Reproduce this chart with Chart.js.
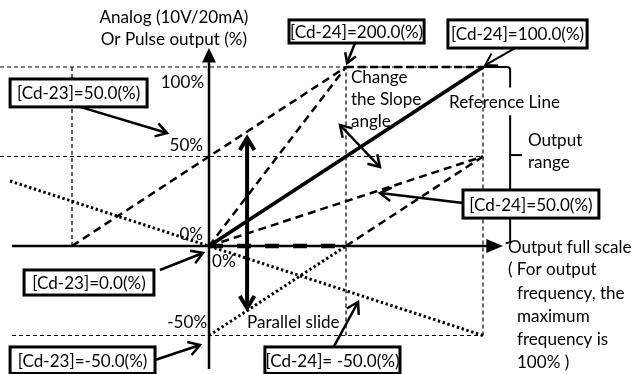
<!DOCTYPE html>
<html><head><meta charset="utf-8">
<script src="https://cdn.jsdelivr.net/npm/chart.js@4.4.1/dist/chart.umd.min.js"></script>
<style>html,body{margin:0;padding:0;background:#fff}canvas{display:block}</style>
</head><body>
<canvas id="c" width="642" height="374"></canvas>
<script>
// ---------- data (percent units) ----------
const tickValues = [100, 50, 0, -50];
const tickLabels = ['100%', '50%', '0%', '-50%'];
const gridXValues = [-50, 50, 100];
const referenceLine = [{x:0,y:0},{x:100,y:100}];      // [Cd-24]=100.0(%)
const gain200 = [{x:0,y:0},{x:50,y:100}];             // [Cd-24]=200.0(%)
const gain200Clip = [{x:50,y:100},{x:100,y:100}];
const bias50 = [{x:-50,y:0},{x:50,y:100}];            // [Cd-23]=50.0(%)
const gain50 = [{x:0,y:0},{x:100,y:50}];              // [Cd-24]=50.0(%)
const biasNeg50Upper = [{x:50,y:0},{x:100,y:50}];     // [Cd-23]=-50.0(%)
const biasNeg50Lower = [{x:0,y:-50},{x:50,y:0}];
const zeroClip = [{x:0,y:0},{x:50,y:0}];
const gainNeg50 = [{x:-72.6,y:36.3},{x:100,y:-50}];   // [Cd-24]=-50.0(%)
const boxLabels = ['[Cd-24]=200.0(%)','[Cd-24]=100.0(%)','[Cd-23]=50.0(%)','[Cd-24]=50.0(%)','[Cd-23]=0.0(%)','[Cd-23]=-50.0(%)','[Cd-24]= -50.0(%)'];

// ---------- scale range ----------
const X_MIN = -76.28, X_MAX = 158.03, Y_MIN = -71.51, Y_MAX = 137.43;

const K = '#000';
const grid = [];
grid.push([{x:X_MIN,y:tickValues[0]},{x:100,y:tickValues[0]}]);
grid.push([{x:X_MIN,y:tickValues[1]},{x:100,y:tickValues[1]}]);
grid.push([{x:-71.9,y:tickValues[3]},{x:100,y:tickValues[3]}]);
grid.push([{x:gridXValues[0],y:0},{x:gridXValues[0],y:100}]);
grid.push([{x:gridXValues[1],y:-50},{x:gridXValues[1],y:100}]);
grid.push([{x:gridXValues[2],y:-50},{x:gridXValues[2],y:100}]);

function ds(data, w, dash, cap){ return {data, showLine:true, borderColor:K, backgroundColor:K, borderWidth:w, borderDash:dash||[], pointRadius:0, borderCapStyle:cap||'butt', tension:0}; }

const datasets = [];
grid.forEach(g => datasets.push(ds(g, 1.2, [4,3])));
datasets.push(ds([{x:-71.9,y:0},{x:101.5,y:0}], 2.5));      // x axis
datasets.push(ds([{x:0,y:-68.7},{x:0,y:104}], 2.5));         // y axis
datasets.push(ds(gainNeg50, 3, [2.4,2.6]));
datasets.push(ds(biasNeg50Lower, 3, [2.4,2.6]));
datasets.push(ds(gain200, 2.5, [8,5]));
datasets.push(ds(gain200Clip, 2.5, [8,4]));
datasets.push(ds(bias50, 2.5, [8,5]));
datasets.push(ds(gain50, 2.5, [8,5]));
datasets.push(ds(biasNeg50Upper, 2.5, [8,5]));
datasets.push(ds(zeroClip, 4.5, [14,14]));
datasets.push(ds(referenceLine, 3.8));

let FS = 17;
const FONT = f => f + 'px Lato, "Open Sans", sans-serif';

const annot = {
  id: 'annot',
  afterDatasetsDraw(chart){
    const ctx = chart.ctx, xs = chart.scales.x, ys = chart.scales.y;
    const X = v => xs.getPixelForValue(v), Y = v => ys.getPixelForValue(v);
    ctx.save();
    ctx.font = FONT(17);
    FS = 17 * 111 / ctx.measureText('Reference Line').width;
    ctx.font = FONT(FS);
    ctx.fillStyle = K; ctx.strokeStyle = K; ctx.textBaseline = 'middle';

    function text(s, x, y, align){ ctx.textAlign = align||'left'; ctx.fillText(s, X(x), Y(y)); }
    function line(x1,y1,x2,y2,w){ ctx.lineWidth = w; ctx.setLineDash([]); ctx.beginPath(); ctx.moveTo(X(x1),Y(y1)); ctx.lineTo(X(x2),Y(y2)); ctx.stroke(); }
    function head(x1,y1,x2,y2,size,w){
      const px1=X(x1),py1=Y(y1),px2=X(x2),py2=Y(y2);
      const a = Math.atan2(py2-py1, px2-px1);
      ctx.lineWidth = w; ctx.setLineDash([]); ctx.lineJoin='miter';
      ctx.beginPath();
      ctx.moveTo(px2 - size*Math.cos(a-0.55), py2 - size*Math.sin(a-0.55));
      ctx.lineTo(px2, py2);
      ctx.lineTo(px2 - size*Math.cos(a+0.55), py2 - size*Math.sin(a+0.55));
      ctx.stroke();
    }
    function arrow(x1,y1,x2,y2,w,size){ line(x1,y1,x2,y2,w); head(x1,y1,x2,y2,size,w); }
    function dbl(x1,y1,x2,y2,w,size){ line(x1,y1,x2,y2,w); head(x1,y1,x2,y2,size,w); head(x2,y2,x1,y1,size,w); }
    function box(label, l, t, r, b){
      const L=X(l),T=Y(t),R=X(r),B=Y(b);
      ctx.fillStyle='#fff'; ctx.fillRect(L,T,R-L,B-T);
      ctx.lineWidth=3; ctx.setLineDash([]); ctx.strokeRect(L,T,R-L,B-T);
      ctx.fillStyle=K; ctx.textAlign='center'; ctx.fillText(label,(L+R)/2,(T+B)/2+1);
    }
    // axis arrowheads
    ctx.beginPath(); ctx.moveTo(X(0),Y(110.6)); ctx.lineTo(X(0)-7,Y(102.5)); ctx.lineTo(X(0)+7,Y(102.5)); ctx.closePath(); ctx.fill();
    ctx.beginPath(); ctx.moveTo(X(107.3),Y(0)); ctx.lineTo(X(101.2),Y(0)-7); ctx.lineTo(X(101.2),Y(0)+7); ctx.closePath(); ctx.fill();

    // bracket (output range)
    ctx.lineWidth = 2; ctx.setLineDash([]);
    ctx.beginPath(); ctx.moveTo(X(100),Y(100)); ctx.lineTo(X(108.6),Y(100)); ctx.quadraticCurveTo(X(109.9),Y(100),X(109.9),Y(98.5)); ctx.lineTo(X(109.9),Y(88.5)); ctx.stroke();
    ctx.beginPath(); ctx.moveTo(X(109.9),Y(73)); ctx.lineTo(X(109.9),Y(3)); ctx.quadraticCurveTo(X(109.9),Y(1.7),X(108.3),Y(1.7)); ctx.stroke();
    ctx.beginPath(); ctx.moveTo(X(109.9),Y(50.8)); ctx.lineTo(X(114.2),Y(50.8)); ctx.stroke();

    // axis labels
    text('Analog (10V/20mA)', -12.8, 127.4, 'center');
    text('Or Pulse output (%)', -12.8, 115.3, 'center');
    // tick labels
    text(tickLabels[0], -1.8, 91.6, 'right');
    text(tickLabels[1], -2.2, 55.9, 'right');
    text(tickLabels[2], -2.2, 6.7, 'right');
    text(tickLabels[2], 1.1, -8.9, 'left');
    text(tickLabels[3], -0.7, -42.5, 'right');
    // annotations
    text('Parallel slide', 13.9, -42.5);
    text('Change', 51.8, 94.4);
    text('the Slope', 51.8, 81.6);
    text('angle', 51.8, 69.3);
    text('Reference Line', 87.6, 80.4);
    text('Output', 116.4, 59.2);
    text('range', 116.4, 46.4);
    text('Output full scale', 109.1, -0.6);
    text('( For output', 109.1, -13.4);
    text('frequency, the', 112.4, -26.3);
    text('maximum', 112.4, -39.5);
    text('frequency is', 112.4, -52.3);
    text('100% )', 112.4, -64.8);

    // arrows
    arrow(-47.1, 77.7, -15.3, 63.1, 2.5, 13);
    arrow(53.3, 113.4, 50.4, 102.2, 2.5, 11);
    arrow(111.7, 110.6, 100.8, 101.1, 2, 13);
    arrow(92.7, 24.0, 62.4, 29.6, 2.5, 13);
    arrow(-17.9, -13.4, -2.2, -3.9, 2.5, 13);
    arrow(-19.7, -63.7, -3.3, -55.3, 2.5, 13);
    arrow(45.3, -57.0, 54.4, -31.3, 2.5, 13);
    dbl(13.9, 60.3, 13.9, -34.6, 4, 14);
    dbl(47.8, 67.6, 62.4, 44.1, 2.5, 13);

    // boxes
    box(boxLabels[0], 29.2, 126.3, 78.5, 113.4);
    box(boxLabels[1], 87.2, 126.3, 138.0, 110.6);
    box(boxLabels[2], -72.6, 93.3, -22.6, 77.7);
    box(boxLabels[3], 92.7, 31.3, 142.3, 15.6);
    box(boxLabels[4], -67.5, -13.4, -20.1, -27.4);
    box(boxLabels[5], -72.6, -56.4, -19.7, -71.2);
    box(boxLabels[6], 20.4, -56.4, 69.7, -71.2);
    ctx.restore();
  }
};

const bg = { id:'bg', beforeDraw(c){ const x=c.ctx; x.save(); x.fillStyle='#fff'; x.fillRect(0,0,c.width,c.height); x.restore(); } };

new Chart(document.getElementById('c'), {
  type: 'scatter',
  data: { datasets },
  options: {
    responsive: false, animation: false, devicePixelRatio: 1,
    layout: { padding: 0 },
    plugins: { legend: {display:false}, tooltip: {enabled:false} },
    scales: {
      x: { type:'linear', min:X_MIN, max:X_MAX, display:false },
      y: { type:'linear', min:Y_MIN, max:Y_MAX, display:false }
    }
  },
  plugins: [bg, annot]
});
</script>
</body></html>
